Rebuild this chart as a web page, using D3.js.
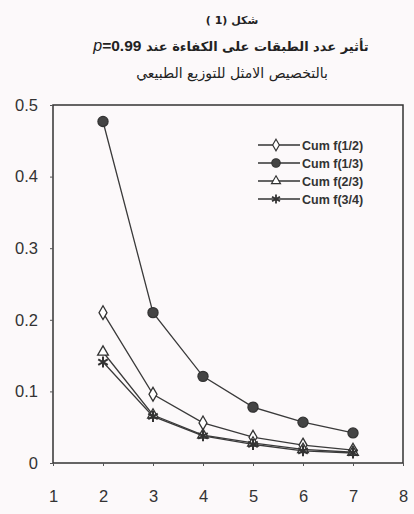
<!DOCTYPE html>
<html>
<head>
<meta charset="utf-8">
<script src="https://cdn.jsdelivr.net/npm/d3@7"></script>
<style>
  body { margin: 0; background: #fcf9fa; }
  svg { display: block; }
</style>
</head>
<body>
<div id="chart"></div>
<script>
// data
const xValues = [2, 3, 4, 5, 6, 7];
const cumHalf = [0.21, 0.096, 0.056, 0.036, 0.025, 0.018];
const cumThird = [0.477, 0.21, 0.121, 0.078, 0.057, 0.042];
const cumTwoThirds = [0.155, 0.067, 0.039, 0.028, 0.019, 0.015];
const cumThreeQuarters = [0.141, 0.065, 0.038, 0.026, 0.017, 0.014];
const seriesNames = ["Cum f(1/2)", "Cum f(1/3)", "Cum f(2/3)", "Cum f(3/4)"];
const xTicks = [1, 2, 3, 4, 5, 6, 7, 8];
const yTicks = [0, 0.1, 0.2, 0.3, 0.4, 0.5];

const series = [
    { name: seriesNames[0], values: cumHalf, symbol: d3.symbolDiamond, fill: "#fff", size: 55, sw: 1.3 },
    { name: seriesNames[1], values: cumThird, symbol: d3.symbolCircle, fill: "#444", size: 80, sw: 1.3 },
    { name: seriesNames[2], values: cumTwoThirds, symbol: d3.symbolTriangle, fill: "#fff", size: 50, sw: 1.3 },
    { name: seriesNames[3], values: cumThreeQuarters, symbol: d3.symbolAsterisk || d3.symbolCross, fill: "none", size: 85, sw: 2 }
];

const W = 414, H = 514;
const margin = { top: 105, right: 11, bottom: 51, left: 53 };
const width = W - margin.left - margin.right;
const height = H - margin.top - margin.bottom;

const svg = d3.select("#chart").append("svg")
    .attr("width", W)
    .attr("height", H);

// titles
const arabicFont = "'DejaVu Sans', sans-serif";
svg.append("text")
    .attr("x", 232).attr("y", 24)
    .attr("text-anchor", "middle")
    .attr("font-family", arabicFont)
    .attr("font-size", 11)
    .attr("font-weight", "bold")
    .attr("fill", "#222")
    .text("شكل (1 )");

const t2 = svg.append("text")
    .attr("x", 231).attr("y", 51)
    .attr("text-anchor", "middle")
    .attr("direction", "rtl")
    .attr("font-family", arabicFont)
    .attr("font-size", 13)
    .attr("font-weight", "bold")
    .attr("fill", "#222");
t2.append("tspan").text("تأثير عدد الطبقات على الكفاءة  عند ");
t2.append("tspan").attr("font-family", "'Liberation Sans', Arial, sans-serif").attr("font-size", 15.5).text("0.99=");
t2.append("tspan").attr("font-family", "'Liberation Sans', Arial, sans-serif").attr("font-size", 16).attr("font-weight", "normal").attr("font-style", "italic").text("p");

svg.append("text")
    .attr("x", 232).attr("y", 78)
    .attr("text-anchor", "middle")
    .attr("direction", "rtl")
    .attr("font-family", arabicFont)
    .attr("font-size", 14)
    .attr("fill", "#222")
    .text("بالتخصيص الامثل للتوزيع الطبيعي");

const g = svg.append("g")
    .attr("transform", `translate(${margin.left},${margin.top})`);

const xScale = d3.scaleLinear().domain([1, 8]).range([0, width]);
const yScale = d3.scaleLinear().domain([0, 0.5]).range([height, 0]);

// frame
g.append("rect")
    .attr("x", 0).attr("y", 0)
    .attr("width", width).attr("height", height)
    .attr("fill", "none")
    .attr("stroke", "#333")
    .attr("stroke-width", 1.5);

// axes
const xAxis = d3.axisBottom(xScale).tickValues(xTicks).tickSize(3).tickPadding(24).tickFormat(d3.format("d"));
const yAxis = d3.axisLeft(yScale).tickValues(yTicks).tickSize(3).tickPadding(12).tickFormat(d => d === 0 ? "0" : d3.format(".1f")(d));

const gx = g.append("g").attr("transform", `translate(0,${height})`).call(xAxis);
const gy = g.append("g").call(yAxis);
[gx, gy].forEach(a => {
    a.select(".domain").remove();
    a.selectAll(".tick line").attr("stroke", "#555");
    a.selectAll(".tick text")
        .attr("font-family", "'Liberation Sans', Arial, sans-serif")
        .attr("font-size", 16.5)
        .attr("fill", "#333");
});

// lines and markers
const line = d3.line()
    .x((d, i) => xScale(xValues[i]))
    .y(d => yScale(d));

series.forEach(s => {
    g.append("path")
        .datum(s.values)
        .attr("fill", "none")
        .attr("stroke", "#3a3a3a")
        .attr("stroke-width", 1.3)
        .attr("d", line);

    g.selectAll(null)
        .data(s.values)
        .enter()
        .append("path")
        .attr("transform", (d, i) => `translate(${xScale(xValues[i])},${yScale(d)})`)
        .attr("d", d3.symbol().type(s.symbol).size(s.size))
        .attr("fill", s.fill)
        .attr("stroke", "#333")
        .attr("stroke-width", s.sw);
});

// legend
const legend = g.append("g")
    .attr("transform", `translate(${258 - margin.left}, ${145 - margin.top})`);

series.forEach((s, i) => {
    const row = legend.append("g").attr("transform", `translate(0, ${i * 18})`);
    row.append("line")
        .attr("x1", 0).attr("x2", 42)
        .attr("y1", 0).attr("y2", 0)
        .attr("stroke", "#333")
        .attr("stroke-width", 1.5);
    row.append("path")
        .attr("transform", "translate(18,0)")
        .attr("d", d3.symbol().type(s.symbol).size(s.size * 0.7))
        .attr("fill", s.fill)
        .attr("stroke", "#333")
        .attr("stroke-width", s.sw * 0.9);
    row.append("text")
        .attr("x", 44).attr("y", 4.5)
        .attr("font-family", "'Liberation Sans', Arial, sans-serif")
        .attr("font-size", 12.5)
        .attr("font-weight", "bold")
        .attr("fill", "#333")
        .text(s.name);
});
</script>
</body>
</html>
